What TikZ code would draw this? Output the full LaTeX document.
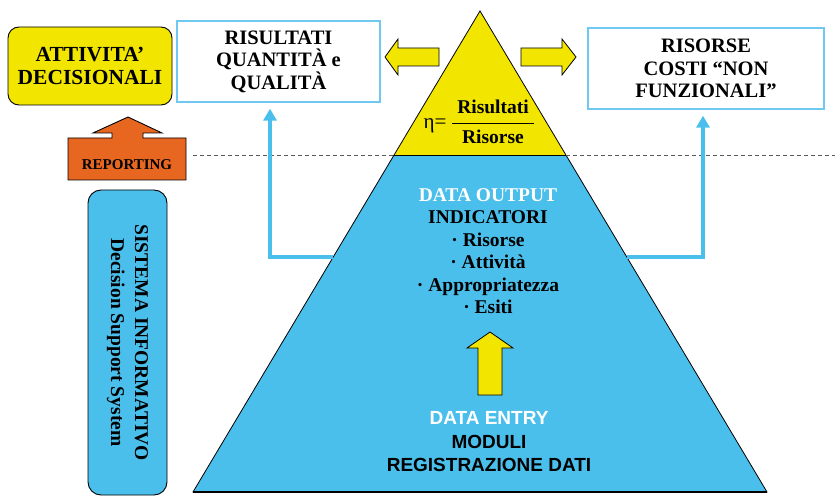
\documentclass[tikz,border=0pt]{standalone}
\usepackage{fontspec}
\setmainfont{Liberation Serif}
\newfontfamily\arialfont{Liberation Sans}
\usetikzlibrary{arrows.meta}

\definecolor{pyryellow}{RGB}{242,230,0}
\definecolor{pyrblue}{RGB}{75,191,235}
\definecolor{boxblue}{RGB}{110,200,240}
\definecolor{reporange}{RGB}{232,103,32}

\begin{document}
\begin{tikzpicture}[x=1pt,y=-1pt,
    txt/.style={font=\bfseries\fontsize{19.5}{22.5}\selectfont, align=center, inner sep=0pt},
    conn/.style={draw=pyrblue, line width=4pt, -{Triangle[width=13pt,length=12pt]}},
    bigarrow/.style={draw=black, line width=0.8pt, line join=miter}]

        \useasboundingbox (0,0) rectangle (835,497);

        % pyramid
        \coordinate (top) at (480,11);
        \coordinate (bl)  at (193,492);
        \coordinate (br)  at (767,492);
        \coordinate (ml)  at (394,155);
        \coordinate (mr)  at (566,155);
        \fill[pyrblue] (bl) -- (br) -- (mr) -- (ml) -- cycle;
        \fill[pyryellow] (top) -- (mr) -- (ml) -- cycle;
        \draw[line width=0.8pt] (top) -- (br) -- (bl) -- cycle;
        \draw[line width=0.8pt] (ml) -- (mr);
        \draw[line width=1.4pt] (bl) -- (br);

        % dashed level line
        \coordinate (dl) at (193,155);
        \coordinate (dr) at (835,155);
        \draw[gray!70!black, dashed, dash pattern=on 4pt off 3pt, line width=0.9pt] (dl) -- (ml);
        \draw[gray!70!black, dashed, dash pattern=on 4pt off 3pt, line width=0.9pt] (mr) -- (dr);

        \begin{scope}[every node/.style={txt}]
          \node[font=\fontsize{21}{22}\selectfont] (eta) at (435,126) {η=};
          \node (num) at (493,107) {Risultati};
          \node (den) at (493,137) {Risorse};

          \node (out) at (488,251) {{\color{white}DATA OUTPUT}\\INDICATORI\\· Risorse\\· Attività\\· Appropriatezza\\· Esiti};
          \node[font=\arialfont\bfseries\fontsize{19}{23.5}\selectfont] (entry) at (489,442) {{\color{white}DATA ENTRY}\\MODULI\\REGISTRAZIONE DATI};
        \end{scope}
        \draw[line width=0.9pt] (452,123) -- (534,123);

        % boxes
        \begin{scope}[every node/.style={txt, font=\bfseries\fontsize{20.5}{22.5}\selectfont, draw=boxblue, line width=1.3pt, fill=white}]
          \node[minimum width=203pt, minimum height=81pt] (risultati) at (278.5,61.5) {RISULTATI\\QUANTITÀ e\\QUALITÀ};
          \node[minimum width=236pt, minimum height=81pt] (risorse) at (706,68.5) {RISORSE\\COSTI “NON\\FUNZIONALI”};
        \end{scope}

        \node[txt, font=\bfseries\fontsize{21.5}{23}\selectfont, draw=black, line width=0.9pt, fill=pyryellow, rounded corners=11pt,
              minimum width=164pt, minimum height=78pt] (attivita) at (90,66) {ATTIVITA’\\DECISIONALI};

        \node[txt, draw=black, line width=0.9pt, fill=pyrblue, rounded corners=13pt,
              minimum width=79pt, minimum height=305pt] (sistema) at (127.5,342.5) {};
        \node[txt, rotate=-90, font=\bfseries\fontsize{19.5}{24}\selectfont] (sistematxt) at (sistema.center) {SISTEMA INFORMATIVO\\Decision Support System};

        % reporting arrow
        \fill[reporange, draw=black, line width=0.9pt]
          (128,117) -- (162,133) -- (143,133) -- (143,138) -- (186,138) -- (186,180)
          -- (68,180) -- (68,138) -- (112,138) -- (112,133) -- (93,133) -- cycle;
        \node[txt, font=\bfseries\fontsize{15}{16}\selectfont] (reporting) at (127,165) {REPORTING};

        % yellow arrows
        \fill[pyryellow, bigarrow] (385,57) -- (398,39) -- (398,48) -- (439,48) -- (439,66) -- (398,66) -- (398,75) -- cycle;
        \fill[pyryellow, bigarrow] (576,57) -- (562,39) -- (562,48) -- (521,48) -- (521,66) -- (562,66) -- (562,75) -- cycle;
        \fill[pyryellow, bigarrow] (490,332) -- (513,348) -- (502,348) -- (502,395) -- (478,395) -- (478,348) -- (467,348) -- cycle;

        % blue connectors
        \coordinate (pl) at (333,257);
        \coordinate (pr) at (627,257);
        \draw[conn] (pl) -| ([xshift=-8.5pt,yshift=-6pt]risultati.south);
        \draw[conn] (pr) -| ([xshift=-3pt,yshift=-6pt]risorse.south);

      \end{tikzpicture}
\end{document}
